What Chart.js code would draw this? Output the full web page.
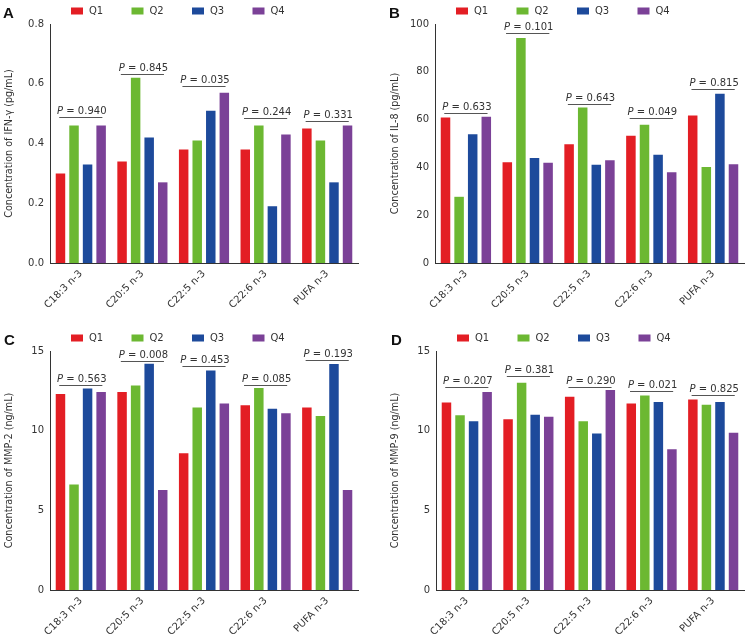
<!DOCTYPE html>
<html>
<head>
<meta charset="utf-8">
<script src="https://cdn.jsdelivr.net/npm/chart.js@4.4.1/dist/chart.umd.min.js"></script>
<style>
  body { margin: 0; background: #fff; }
  #wrap { position: relative; width: 752px; height: 634px; }
  .panel { position: absolute; width: 376px; height: 307px; }
  .tag { position: absolute; font: bold 15px "Liberation Sans", Arial, sans-serif; color: #111; }
</style>
</head>
<body>
<div id="wrap">
  <div class="panel" style="left:0;top:0"><canvas id="chartA"></canvas></div>
  <div class="panel" style="left:376px;top:0"><canvas id="chartB"></canvas></div>
  <div class="panel" style="left:0;top:327px"><canvas id="chartC"></canvas></div>
  <div class="panel" style="left:376px;top:327px"><canvas id="chartD"></canvas></div>
  <div class="tag" style="left:3px;top:4px">A</div>
  <div class="tag" style="left:389px;top:4px">B</div>
  <div class="tag" style="left:4px;top:331px">C</div>
  <div class="tag" style="left:391px;top:331px">D</div>
</div>
<script>
const categories = ["C18:3 n-3", "C20:5 n-3", "C22:5 n-3", "C22:6 n-3", "PUFA n-3"];
const quartiles = ["Q1", "Q2", "Q3", "Q4"];
const colors = ["#e31e24", "#6cb832", "#1d4a9b", "#7b4197"];

// A - IFN-gamma
const ifnQ1 = [0.30, 0.34, 0.38, 0.38, 0.45];
const ifnQ2 = [0.46, 0.62, 0.41, 0.46, 0.41];
const ifnQ3 = [0.33, 0.42, 0.51, 0.19, 0.27];
const ifnQ4 = [0.46, 0.27, 0.57, 0.43, 0.46];
const ifnP = ["0.940", "0.845", "0.035", "0.244", "0.331"];
const ifnBar = [0.49, 0.632, 0.592, 0.485, 0.474];
const ifnTicks = [0, 0.2, 0.4, 0.6, 0.8];

// B - IL-8
const il8Q1 = [60.9, 42.2, 49.7, 53.2, 61.7];
const il8Q2 = [27.7, 94.1, 65.1, 57.8, 40.2];
const il8Q3 = [53.9, 43.9, 41.1, 45.3, 70.8];
const il8Q4 = [61.2, 41.9, 43.0, 38.0, 41.3];
const il8P = ["0.633", "0.101", "0.643", "0.049", "0.815"];
const il8Bar = [62.8, 96.1, 66.6, 60.6, 72.9];
const il8Ticks = [0, 20, 40, 60, 80, 100];

// C - MMP-2
const mmp2Q1 = [12.30, 12.42, 8.58, 11.59, 11.46];
const mmp2Q2 = [6.62, 12.84, 11.46, 12.67, 10.92];
const mmp2Q3 = [12.65, 14.20, 13.78, 11.38, 14.18];
const mmp2Q4 = [12.42, 6.28, 11.71, 11.09, 6.28];
const mmp2P = ["0.563", "0.008", "0.453", "0.085", "0.193"];
const mmp2Bar = [12.86, 14.40, 14.03, 12.86, 14.43];
const mmpTicks = [0, 5, 10, 15];

// D - MMP-9
const mmp9Q1 = [11.76, 10.71, 12.13, 11.71, 11.96];
const mmp9Q2 = [10.96, 13.00, 10.59, 12.21, 11.63];
const mmp9Q3 = [10.59, 11.00, 9.83, 11.80, 11.80];
const mmp9Q4 = [12.42, 10.88, 12.55, 8.83, 9.87];
const mmp9P = ["0.207", "0.381", "0.290", "0.021", "0.825"];
const mmp9Bar = [12.71, 13.46, 12.75, 12.50, 12.25];

const FONT = '"DejaVu Sans", Verdana, sans-serif';

// legend drawn above the plot, aligned to the y axis
const quartLegend = {
    id: "quartLegend",
    afterDraw(chart) {
        const ctx = chart.ctx;
        const area = chart.chartArea;
        ctx.save();
        ctx.font = "10px " + FONT;
        ctx.textBaseline = "middle";
        chart.data.datasets.forEach((ds, i) => {
            const x = area.left + 21 + i * 60.5;
            const y = area.top - 13;
            ctx.fillStyle = ds.backgroundColor;
            ctx.fillRect(x, y - 3.5, 12, 7);
            ctx.fillStyle = "#333";
            ctx.fillText(ds.label, x + 18, y);
        });
        ctx.restore();
    }
};

// P value lines over each group
const pNotes = {
    id: "pNotes",
    afterDatasetsDraw(chart, args, opts) {
        const ctx = chart.ctx;
        const xs = chart.scales.x, ys = chart.scales.y;
        const half = (xs.width / categories.length) * 0.35;
        ctx.save();
        opts.levels.forEach((lv, i) => {
            const cx = xs.getPixelForValue(i);
            const ly = Math.round(ys.getPixelForValue(lv)) + 0.5;
            ctx.strokeStyle = "#555";
            ctx.lineWidth = 1;
            ctx.beginPath();
            ctx.moveTo(cx - half, ly);
            ctx.lineTo(cx + half, ly);
            ctx.stroke();

            const rest = " = " + opts.values[i];
            ctx.font = "italic 10px " + FONT;
            const wP = ctx.measureText("P").width;
            ctx.font = "10px " + FONT;
            const wR = ctx.measureText(rest).width;
            const tx = cx - (wP + wR) / 2 + 1;
            ctx.fillStyle = "#333";
            ctx.font = "italic 10px " + FONT;
            ctx.fillText("P", tx, ly - 4);
            ctx.font = "10px " + FONT;
            ctx.fillText(rest, tx + wP, ly - 4);
        });
        ctx.restore();
    }
};

function makeChart(id, yTitle, series, ticks, decimals, pVals, levels, leftPad, axisW, rightPad) {
    new Chart(document.getElementById(id), {
        type: "bar",
        data: {
            labels: categories,
            datasets: series.map((s, i) => ({
                label: quartiles[i],
                data: s,
                backgroundColor: colors[i],
                categoryPercentage: 0.88,
                barPercentage: 0.7
            }))
        },
        options: {
            responsive: true,
            maintainAspectRatio: false,
            animation: false,
            layout: { padding: { top: 24, left: leftPad, right: rightPad, bottom: 0 } },
            plugins: {
                legend: { display: false },
                tooltip: { enabled: false },
                pNotes: { values: pVals, levels: levels }
            },
            scales: {
                x: {
                    grid: { display: false, drawTicks: false },
                    border: { display: true, color: "#333", width: 1 },
                    ticks: {
                        color: "#333",
                        font: { family: FONT, size: 10 },
                        minRotation: 45,
                        maxRotation: 45,
                        autoSkip: false,
                        padding: 5
                    },
                    afterFit(scale) { scale.height = 44; }
                },
                y: {
                    min: ticks[0],
                    max: ticks[ticks.length - 1],
                    grid: { display: false, drawTicks: false },
                    border: { display: true, color: "#333", width: 1 },
                    ticks: {
                        color: "#333",
                        font: { family: FONT, size: 10 },
                        padding: 6,
                        callback: v => Number(v).toFixed(decimals)
                    },
                    afterBuildTicks(scale) { scale.ticks = ticks.map(v => ({ value: v })); },
                    afterFit(scale) { scale.width = axisW; },
                    title: {
                        display: true,
                        text: yTitle,
                        color: "#333",
                        font: { family: FONT, size: 9.6 },
                        padding: { top: 4, bottom: 0 }
                    }
                }
            }
        },
        plugins: [quartLegend, pNotes]
    });
}

makeChart("chartA", "Concentration of IFN-\u03b3 (pg/mL)", [ifnQ1, ifnQ2, ifnQ3, ifnQ4], ifnTicks, 1, ifnP, ifnBar, 0, 50, 18);
makeChart("chartB", "Concentration of IL-8 (pg/mL)", [il8Q1, il8Q2, il8Q3, il8Q4], il8Ticks, 0, il8P, il8Bar, 10, 49, 8);
makeChart("chartC", "Concentration of MMP-2 (ng/mL)", [mmp2Q1, mmp2Q2, mmp2Q3, mmp2Q4], mmpTicks, 0, mmp2P, mmp2Bar, 0, 50, 18);
makeChart("chartD", "Concentration of MMP-9 (ng/mL)", [mmp9Q1, mmp9Q2, mmp9Q3, mmp9Q4], mmpTicks, 0, mmp9P, mmp9Bar, 10, 50, 8);
</script>
</body>
</html>
